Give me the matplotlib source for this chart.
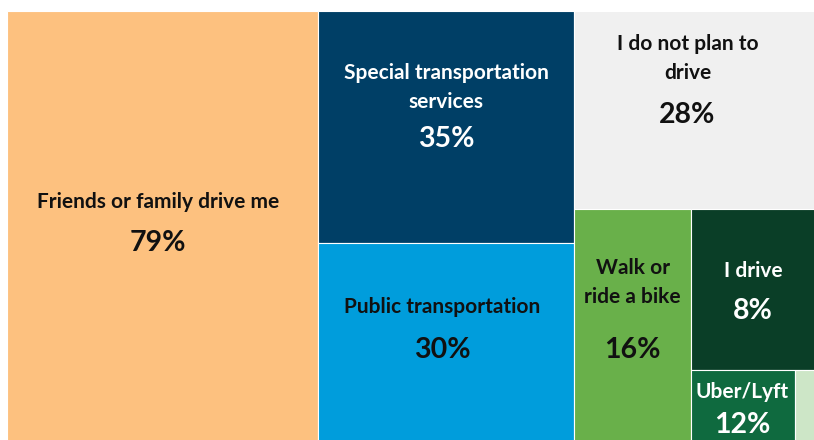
import matplotlib
matplotlib.use("Agg")
import matplotlib.pyplot as plt
from matplotlib.patches import Rectangle

# tile names, shown percentages, and area weights
labels = ["Friends or family drive me", "Special transportation\nservices",
          "Public transportation", "I do not plan to\ndrive", "Walk or\nride a bike",
          "I drive", "Uber/Lyft", ""]
pct_text = ["79%", "35%", "30%", "28%", "16%", "8%", "12%", ""]
areas = [79, 35, 30, 28, 16, 11.8, 4.4, 0.85]

colors = ["#FDC17F", "#003F66", "#009DDC", "#F0F0F0", "#69B04A",
          "#0A3E27", "#0F6A3F", "#CDE6C7"]
text_colors = ["#111111", "white", "#111111", "#111111", "#111111",
               "white", "white", "#111111"]

# where the text sits inside each tile (fraction of width, label y, pct y)
text_x = [0.486, 0.5, 0.485, 0.47, 0.5, 0.5, 0.495, 0.5]
label_y = [0.443, 0.328, 0.322, 0.242, 0.318, 0.385, 0.306, 0.5]
pct_y = [0.538, 0.552, 0.538, 0.525, 0.605, 0.634, 0.764, 0.5]

# nesting of the treemap: "h" splits left-right, "v" splits top-bottom
tree = ("h", [0, ("v", [1, 2]), ("v", [3, ("h", [4, ("v", [5, ("h", [6, 7])])])])])


def weight(node):
    if isinstance(node, int):
        return areas[node]
    return sum(weight(c) for c in node[1])


def layout(node, x, y, w, h, out):
    if isinstance(node, int):
        out[node] = (x, y, w, h)
        return
    kind, kids = node
    total = weight(node)
    pos = 0
    for k in kids:
        f = weight(k) / total
        if kind == "h":
            layout(k, x + pos * w, y, f * w, h, out)
        else:
            layout(k, x, y + pos * h, w, f * h, out)
        pos += f


rects = {}
layout(tree, 0, 0, 1, 1, rects)

fig = plt.figure(figsize=(8.14, 4.40), dpi=100)
ax = fig.add_axes([7 / 814, -2 / 440, 808 / 814, 431 / 440])
ax.set_xlim(0, 1)
ax.set_ylim(1, 0)
ax.axis("off")

for i in range(len(areas)):
    x, y, w, h = rects[i]
    ax.add_patch(Rectangle((x, y), w, h, facecolor=colors[i],
                           edgecolor="white", linewidth=0.8))
    if labels[i]:
        ax.text(x + text_x[i] * w, y + label_y[i] * h, labels[i],
                ha="center", va="center", fontsize=15, fontweight="bold",
                family="Lato", color=text_colors[i], linespacing=1.55)
        ax.text(x + text_x[i] * w, y + pct_y[i] * h, pct_text[i],
                ha="center", va="center", fontsize=20.5, fontweight="bold",
                family="Lato", color=text_colors[i])

plt.savefig("out.png", dpi=100)
plt.close()
